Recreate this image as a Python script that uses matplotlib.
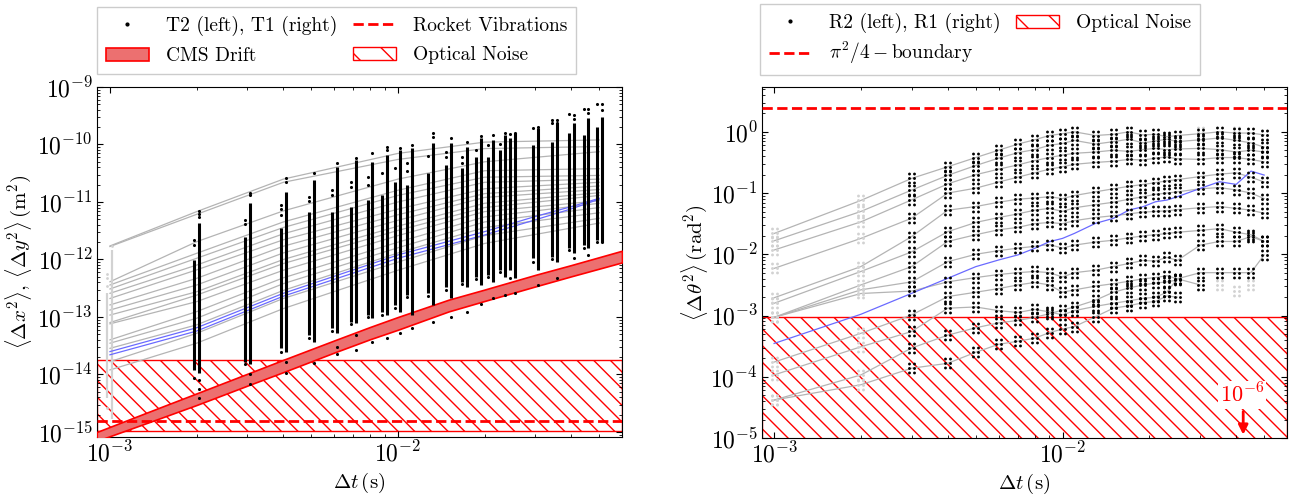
import numpy as np
import matplotlib
matplotlib.use("Agg")
import matplotlib.pyplot as plt
from matplotlib.path import Path
from matplotlib.lines import Line2D
from matplotlib.patches import Patch
from matplotlib.ticker import NullFormatter

plt.rcParams.update({
    "font.family": "cmr10",
    "mathtext.fontset": "cm",
    "axes.formatter.use_mathtext": True,
    "axes.unicode_minus": False,
    "font.size": 14,
    "hatch.linewidth": 1.0,
})

# ---------------------------------------------------------------- data
# lag times (ms)
t_ms = [1, 2, 3, 4, 5, 6, 7, 8, 9, 10, 11, 13, 15, 17, 19, 21, 23, 25, 30, 35, 40, 45, 50]
tc_ms = t_ms[1:]                      # lags kept in the translational analysis

# translational displacement clouds, T2 (left) and T1 (right), m^2
t2_lo = [1.2e-14, 1.67e-14, 2.85e-14, 4.86e-14, 6.4e-14, 8.3e-14, 1.08e-13, 1.24e-13, 1.62e-13, 2.4e-13, 2.58e-13,
         3.37e-13, 4.1e-13, 5.0e-13, 5.4e-13, 6.6e-13, 6.6e-13, 1.05e-12, 1.12e-12, 1.56e-12, 1.79e-12, 2.18e-12]
t2_hi = [0.98e-12, 2.5e-12, 3.5e-12, 6.8e-12, 6.8e-12, 8.3e-12, 1.08e-11, 1.32e-11, 2.26e-11, 1.98e-11, 3.16e-11,
         4.4e-11, 3.86e-11, 6.1e-11, 6.1e-11, 8.0e-11, 1.28e-10, 9.8e-11, 1.12e-10, 1.57e-10, 1.46e-10, 2.04e-10]
t2_top = [[2.18e-12, 1.78e-12], [4.86e-12, 4.2e-12], [8.9e-12, 7.5e-12, 6.0e-12], [1.24e-11, 1.05e-11],
          [1.62e-11, 1.3e-11], [2.26e-11, 1.8e-11], [2.76e-11, 2.0e-11], [3.16e-11], [3.86e-11],
          [4.7e-11, 3.5e-11], [6.4e-11], [7.5e-11, 6.0e-11], [6.1e-11, 4.8e-11], [8.0e-11], [9.8e-11],
          [1.0e-10], [1.5e-10], [1.91e-10], [2.67e-10, 2.4e-10], [3.35e-10], [4.14e-10], [5.0e-10]]
t2_bot = [[8.6e-15], [1.5e-14], [2.5e-14], [4.26e-14], [5.8e-14], [7.5e-14], [9.8e-14], [1.1e-13], [1.45e-13],
          [2.2e-13], [2.3e-13], [3.0e-13], [3.7e-13], [4.6e-13], [5.0e-13], [6.0e-13], [4.7e-13], [9.2e-13],
          [1.0e-12], [1.45e-12], [1.6e-12], [2.0e-12]]

t1_lo = [1.05e-14, 1.5e-14, 2.5e-14, 3.72e-14, 5.2e-14, 7.8e-14, 9.5e-14, 1.08e-13, 1.24e-13, 1.08e-13, 1.62e-13,
         2.1e-13, 3.37e-13, 3.6e-13, 4.1e-13, 5.0e-13, 4.7e-13, 6.6e-13, 9.2e-13, 1.28e-12, 1.56e-12, 2.04e-12]
t1_hi = [4.26e-12, 9.5e-12, 1.5e-11, 2.41e-11, 4.1e-11, 5.4e-11, 5.0e-11, 6.6e-11, 8.0e-11, 8.6e-11, 1.05e-10,
         1.05e-10, 9.2e-11, 1.28e-10, 1.2e-10, 1.46e-10, 1.57e-10, 1.91e-10, 2.33e-10, 2.33e-10, 2.85e-10, 3.05e-10]
t1_top = [[7.0e-12, 6.3e-12, 5.5e-12], [1.42e-11, 1.3e-11], [2.58e-11, 2.2e-11], [3.16e-11], [4.7e-11],
          [5.8e-11], [7.0e-11], [9.2e-11, 8.0e-11], [8.8e-11], [9.8e-11], [1.57e-10, 1.35e-10], [1.31e-10],
          [1.12e-10], [1.43e-10], [1.46e-10], [1.57e-10], [1.6e-10], [2.0e-10], [2.67e-10, 2.4e-10],
          [3.26e-10, 2.8e-10], [4.14e-10, 3.5e-10], [5.0e-10, 4.0e-10]]
t1_bot = [[8.0e-15, 5.6e-15, 3.95e-15], [1.0e-14, 6.8e-15], [1.67e-14, 1.05e-14], [1.56e-14], [3.0e-14, 2.24e-14],
          [4.86e-14, 2.67e-14], [3.72e-14], [4.26e-14], [5.2e-14], [6.4e-14], [8.3e-14], [1.01e-13], [1.24e-13],
          [1.66e-13], [2.1e-13], [2.4e-13], [2.58e-13], [3.6e-13], [4.7e-13], [1.05e-12], [1.2e-12], [2.0e-12]]

# excluded 1 ms lag (drawn light)
t2_1ms = [3.86e-15, 2.58e-13]
t2_1ms_dots = [5.7e-13, 4.8e-13, 3.4e-13, 2.6e-15]
t1_1ms = [1.7e-15, 1.46e-12]
t1_1ms_dots = [1.7e-12]

# per-trajectory mean squared displacement (m^2) at selected lags
traj_t_ms = [1, 2, 4, 10, 20, 50]
traj_msd = [
    [1.72e-12, 6.8e-12, 2.5e-11, 7.0e-11, 1.1e-10, 1.2e-10],
    [1.68e-12, 6.1e-12, 2.2e-11, 5.5e-11, 8.5e-11, 9.2e-11],
    [4.1e-13, 2.04e-12, 7.0e-12, 2.5e-11, 5.0e-11, 7.5e-11],
    [3.6e-13, 1.28e-12, 4.5e-12, 1.6e-11, 3.5e-11, 3.8e-11],
    [3.07e-13, 1.05e-12, 3.6e-12, 1.3e-11, 2.7e-11, 2.9e-11],
    [2.58e-13, 8.0e-13, 2.8e-12, 1.0e-11, 2.2e-11, 2.5e-11],
    [2.1e-13, 6.6e-13, 2.2e-12, 7.5e-12, 1.7e-11, 2.2e-11],
    [1.62e-13, 4.7e-13, 1.7e-12, 6.0e-12, 1.4e-11, 1.9e-11],
    [1.32e-13, 3.6e-13, 1.3e-12, 4.8e-12, 1.2e-11, 1.65e-11],
    [1.08e-13, 2.75e-13, 1.0e-12, 3.8e-12, 9.5e-12, 1.45e-11],
    [8.0e-14, 2.4e-13, 8.5e-13, 3.2e-12, 8.0e-12, 1.3e-11],
    [7.6e-14, 1.85e-13, 6.5e-13, 2.6e-12, 6.8e-12, 1.05e-11],
    [4.0e-14, 1.24e-13, 4.8e-13, 2.0e-12, 5.5e-12, 9.5e-12],
    [3.5e-14, 9.5e-14, 3.8e-13, 1.6e-12, 4.5e-12, 8.0e-12],
    [2.85e-14, 7.3e-14, 2.9e-13, 1.3e-12, 3.6e-12, 6.5e-12],
    [1.67e-14, 5.2e-14, 2.1e-13, 9.0e-13, 2.6e-12, 5.2e-12],
    [1.2e-14, 3.5e-14, 1.4e-13, 6.5e-13, 1.9e-12, 4.3e-12],
]
# ensemble averages (x and y)
mean_t_ms = [1, 2, 4, 10, 20, 30, 40, 50]
mean_x = [2.5e-14, 6.5e-14, 2.58e-13, 1.2e-12, 3.05e-12, 5.6e-12, 8.3e-12, 1.16e-11]
mean_y = [2.2e-14, 5.7e-14, 2.3e-13, 1.05e-12, 2.67e-12, 4.9e-12, 7.6e-12, 1.12e-11]

# centre-of-mass drift band (m^2)
drift_t_ms = [0.9, 1.5, 2, 3, 4, 6, 8, 10, 15, 20, 30, 40, 60]
drift_lo = [0.7e-15, 1.75e-15, 2.95e-15, 6.4e-15, 1.1e-14, 2.4e-14, 4.1e-14, 6.0e-14, 1.25e-13, 1.9e-13,
            3.4e-13, 5.1e-13, 8.9e-13]
drift_hi = [1.0e-15, 2.7e-15, 4.7e-15, 1.03e-14, 1.8e-14, 3.9e-14, 6.7e-14, 1.0e-13, 2.0e-13, 3.0e-13,
            5.4e-13, 8.0e-13, 1.42e-12]

rocket_level = 1.56e-15
noise_xy = (1.05e-15, 1.76e-14)

# rotational MSD per trajectory, log10(rad^2), one value per lag
rot_log = [
    [-1.66, -1.12, -0.76, -0.57, -0.42, -0.30, -0.20, -0.13, -0.06, -0.03, 0.00, -0.06, -0.04, 0.00, -0.05, -0.04, -0.08, -0.06, -0.03, 0.00, -0.02, -0.02, -0.05],
    [-1.78, -1.30, -0.95, -0.71, -0.55, -0.43, -0.34, -0.29, -0.22, -0.19, -0.14, -0.20, -0.16, -0.12, -0.18, -0.15, -0.12, -0.16, -0.13, -0.10, -0.14, -0.18, -0.25],
    [-1.93, -1.47, -1.11, -0.85, -0.70, -0.61, -0.54, -0.47, -0.42, -0.38, -0.35, -0.33, -0.30, -0.32, -0.29, -0.27, -0.29, -0.28, -0.27, -0.29, -0.33, -0.30, -0.33],
    [-2.23, -1.74, -1.41, -1.00, -0.92, -0.82, -0.74, -0.67, -0.61, -0.57, -0.53, -0.50, -0.48, -0.45, -0.46, -0.43, -0.41, -0.44, -0.45, -0.42, -0.42, -0.45, -0.49],
    [-2.71, -2.20, -1.71, -1.28, -1.22, -1.15, -1.10, -1.08, -1.06, -1.09, -1.04, -0.98, -0.93, -0.89, -0.86, -0.83, -0.80, -0.78, -0.73, -0.69, -0.67, -0.74, -0.82],
    [-2.80, -2.28, -1.96, -1.63, -1.48, -1.40, -1.34, -1.28, -1.25, -1.30, -1.24, -1.19, -1.15, -1.10, -1.06, -1.02, -1.00, -0.98, -0.93, -0.91, -0.95, -1.00, -1.09],
    [-3.03, -2.50, -2.20, -1.79, -1.68, -1.60, -1.56, -1.50, -1.48, -1.50, -1.45, -1.40, -1.37, -1.34, -1.31, -1.30, -1.29, -1.27, -1.24, -1.22, -1.25, -1.28, -1.33],
    [-3.03, -2.58, -2.45, -2.12, -2.00, -1.94, -1.90, -1.87, -1.84, -1.90, -1.85, -1.80, -1.77, -1.73, -1.70, -1.68, -1.66, -1.64, -1.61, -1.58, -1.64, -1.68, -1.79],
    [-3.03, -2.64, -2.60, -2.45, -2.38, -2.33, -2.30, -2.28, -2.30, -2.37, -2.30, -2.26, -2.20, -2.15, -2.10, -2.11, -2.05, -2.10, -1.85, -1.79, -1.79, -1.71, -1.79],
    [-3.76, -3.29, -2.99, -2.69, -2.62, -2.56, -2.50, -2.46, -2.50, -2.62, -2.58, -2.52, -2.48, -2.44, -2.40, -2.38, -2.35, -2.40, -2.50, np.nan, np.nan, np.nan, np.nan],
    [-3.97, -3.51, -3.26, -2.88, -2.86, -2.92, -2.95, -2.90, -2.94, -2.99, -2.92, -2.85, -2.80, -2.76, -2.72, -2.70, -2.62, -2.40, -2.30, -2.30, -2.30, -2.30, -2.01],
    [-4.38, -4.13, -3.86, -3.78, -3.60, -3.47, -3.42, -3.37, -3.28, -3.22, -3.18, -3.02, -2.88, -2.84, -2.79, -2.77, -2.68, -2.70, np.nan, np.nan, np.nan, np.nan, np.nan],
    [-4.38, -3.97, -3.53, -3.32, -3.20, -3.12, -3.08, -3.03, -2.97, -2.91, -2.86, -2.75, -2.62, -2.55, -2.50, -2.47, -2.45, -2.42, np.nan, np.nan, np.nan, np.nan, np.nan],
]
rot_mean_log = [-3.456, -2.979, -2.637, -2.392, -2.202, -2.093, -2.010, -1.903, -1.794, -1.740, -1.658, -1.495,
                -1.413, -1.277, -1.223, -1.142, -1.114, -1.060, -0.924, -0.815, -0.858, -0.641, -0.706]
rot_excl_t_ms = [30, 40, 50, 35, 40, 45]
rot_excl = [1.0, 1.0, 0.88, 3.2e-3, 2.5e-3, 3.2e-3]
rot_boundary = np.pi ** 2 / 4
noise_rot = (1e-6, 0.95e-3)

# decade ticks shown on each axis
xticks = [1e-3, 1e-2]
yticks_xy = [1e-15, 1e-14, 1e-13, 1e-12, 1e-11, 1e-10, 1e-9]
yticks_rot = [1e-5, 1e-4, 1e-3, 1e-2, 1e-1, 1e0]

# ---------------------------------------------------------------- style
RED = "#ff0000"
GREY = "#b4b4b4"
LIGHT = "#d2d2d2"
BLUE = "#6a6aff"
DRIFT = "#ec7070"
HATCH = "\\\\"
split = 1.02          # horizontal separation of the two detectors at a given lag


def dot_stack():
    circ = Path.unit_circle()
    parts = [Path(circ.vertices * 0.32 + [0.0, dy], circ.codes) for dy in (-1.0, 0.0, 1.0)]
    return Path.make_compound_path(*parts)


STACK = dot_stack()


def style_axes(ax, yticks):
    ax.set_xscale("log")
    ax.set_yscale("log")
    ax.set_xticks(xticks)
    ax.set_yticks(yticks)
    ax.tick_params(which="both", direction="in", top=True, right=True, labelsize=17, pad=3)
    ax.tick_params(which="major", length=4.5, width=0.8)
    ax.tick_params(which="minor", length=2.5, width=0.6)
    ax.xaxis.set_minor_formatter(NullFormatter())
    ax.yaxis.set_minor_formatter(NullFormatter())


fig = plt.figure(figsize=(12.93, 4.96), dpi=100)
W, H = 1293, 496
ax1 = fig.add_axes([97 / W, 1 - 437 / H, 525 / W, 350 / H])
ax2 = fig.add_axes([762 / W, 1 - 438 / H, 525 / W, 351 / H])

leg_kw = dict(loc="lower left", ncol=2, fancybox=False, edgecolor="0.8", framealpha=1, fontsize=14,
              handlelength=2.2, handletextpad=0.9, columnspacing=0.8, borderaxespad=0, borderpad=0.45)

# ---------------------------------------------------------------- left panel
ax = ax1
style_axes(ax, yticks_xy)
ax.axhspan(*noise_xy, facecolor="none", edgecolor=RED, hatch=HATCH, lw=1.0, zorder=1)
ax.axhline(rocket_level, color=RED, ls="--", lw=2.0, zorder=6)

for row in traj_msd:
    ax.plot(np.array(traj_t_ms) * 1e-3, row, color=GREY, lw=0.9, zorder=2)
ax.plot(np.array(mean_t_ms) * 1e-3, mean_x, color=BLUE, lw=0.9, zorder=3)
ax.plot(np.array(mean_t_ms) * 1e-3, mean_y, color=BLUE, lw=0.9, zorder=3)

ax.fill_between(np.array(drift_t_ms) * 1e-3, drift_lo, drift_hi, facecolor=DRIFT,
                edgecolor=RED, lw=1.2, zorder=4)

tl = 1e-3 / split
tr = 1e-3 * split
ax.vlines(tl, *t2_1ms, colors=LIGHT, lw=1.6, zorder=2.5)
ax.vlines(tr, *t1_1ms, colors=LIGHT, lw=1.6, zorder=2.5)
ax.scatter([tl] * len(t2_1ms_dots), t2_1ms_dots, s=4, color=LIGHT, lw=0, zorder=2.5)
ax.scatter([tr] * len(t1_1ms_dots), t1_1ms_dots, s=4, color=LIGHT, lw=0, zorder=2.5)

tc = np.array(tc_ms) * 1e-3
ax.vlines(tc / split, t2_lo, t2_hi, colors="k", lw=2.2, zorder=5)
ax.vlines(tc * split, t1_lo, t1_hi, colors="k", lw=2.2, zorder=5)
for k, tk in enumerate(tc):
    for vals, xx in ((t2_top[k] + t2_bot[k], tk / split), (t1_top[k] + t1_bot[k], tk * split)):
        ax.scatter([xx] * len(vals), vals, s=5, color="k", lw=0, zorder=5)

ax.set_xlim(0.9015e-3, 0.06)
ax.set_ylim(0.818e-15, 1e-9)
ax.set_xlabel(r"$\Delta t\,(\mathrm{s})$", fontsize=15, labelpad=3)
ax.set_ylabel(r"$\langle\Delta x^2\rangle,\,\langle\Delta y^2\rangle\,(\mathrm{m}^2)$", fontsize=15, labelpad=2)

h_dot = Line2D([], [], ls="none", marker="o", ms=2, color="k")
h_drift = Patch(facecolor=DRIFT, edgecolor=RED, lw=1.2)
h_rocket = Line2D([], [], color=RED, ls="--", lw=2.0)
h_noise = Patch(facecolor="none", edgecolor=RED, hatch="\\", lw=1.0)
ax.legend([h_dot, h_drift, h_rocket, h_noise],
          ["T2 (left), T1 (right)", "CMS Drift", "Rocket Vibrations", "Optical Noise"],
          bbox_to_anchor=(0.0, 1.037), labelspacing=0.6, **leg_kw)

# ---------------------------------------------------------------- right panel
ax = ax2
style_axes(ax, yticks_rot)
ax.axhspan(*noise_rot, facecolor="none", edgecolor=RED, hatch=HATCH, lw=1.0, zorder=1)
ax.axhline(rot_boundary, color=RED, ls="--", lw=2.0, zorder=6)

tt = np.array(t_ms) * 1e-3
for row in rot_log:
    vals = 10.0 ** np.array(row)
    ax.plot(tt, vals, color=GREY, lw=0.9, zorder=2)
    for xx in (tt / split, tt * split):
        ax.plot(xx[:2], vals[:2], ls="none", marker=STACK, ms=8.5, mew=0, color=LIGHT, zorder=2.5)
        ax.plot(xx[2:], vals[2:], ls="none", marker=STACK, ms=8.5, mew=0, color="k", zorder=5)
ax.plot(tt, 10.0 ** np.array(rot_mean_log), color=BLUE, lw=0.9, zorder=3)
ex = np.array(rot_excl_t_ms) * 1e-3
for xx in (ex / split, ex * split):
    ax.plot(xx, rot_excl, ls="none", marker=STACK, ms=8.5, mew=0, color=LIGHT, zorder=2.5)

ax.text(0.0418, 5.1e-5, r"$10^{-6}$", color=RED, fontsize=16, ha="center", va="center",
        bbox=dict(facecolor="white", edgecolor="none", pad=1.5), zorder=7)
ax.annotate("", xy=(0.0423, 1.02e-5), xytext=(0.0423, 3.0e-5),
            arrowprops=dict(arrowstyle="-|>", color=RED, lw=2.0, mutation_scale=14), zorder=7)

ax.set_xlim(0.908e-3, 0.06)
ax.set_ylim(1e-5, 5.4)
ax.set_xlabel(r"$\Delta t\,(\mathrm{s})$", fontsize=15, labelpad=3)
ax.set_ylabel(r"$\langle\Delta\theta^2\rangle\,(\mathrm{rad}^2)$", fontsize=15, labelpad=0)

h_dot2 = Line2D([], [], ls="none", marker="o", ms=2, color="k")
h_bound = Line2D([], [], color=RED, ls="--", lw=2.0)
ax.legend([h_dot2, h_bound, h_noise],
          ["R2 (left), R1 (right)", r"$\pi^2/4-$boundary", "Optical Noise"],
          bbox_to_anchor=(-0.004, 1.034), labelspacing=0.35, **leg_kw)

fig.savefig("out.png", dpi=100)
